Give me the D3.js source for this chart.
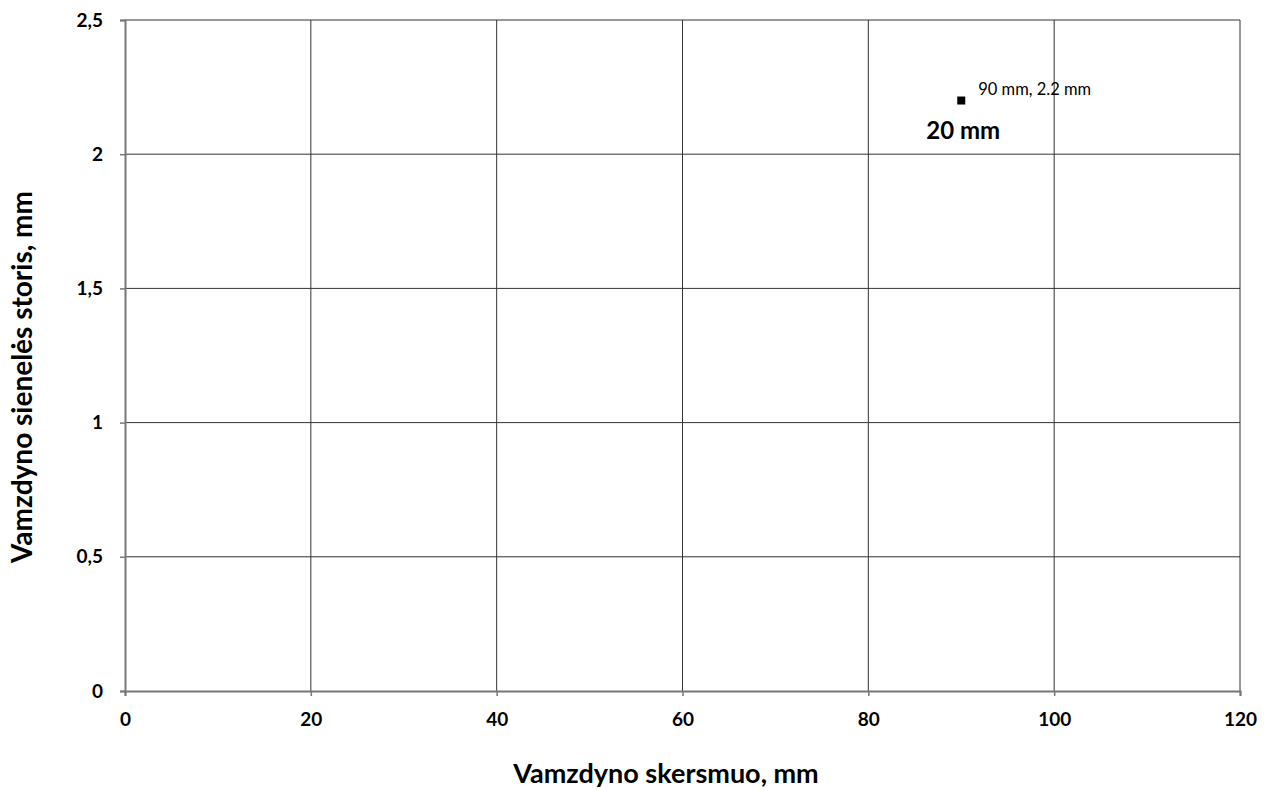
<!DOCTYPE html>
<html><head><meta charset="utf-8">
<script src="https://cdn.jsdelivr.net/npm/d3@7"></script>
<style>body{margin:0;background:#fff}svg{display:block}</style>
</head><body>
<script>
const xTicks = [0,20,40,60,80,100,120];
const yTicks = [0,0.5,1,1.5,2,2.5];
const pointsX = [90];
const pointsY = [2.2];
const pointLabels = ["90 mm, 2.2 mm"];
const seriesName = "20 mm";
const xTitle = "Vamzdyno skersmuo, mm";
const yTitle = "Vamzdyno sienelės storis, mm";

const W=1274,H=790;
const m={l:125,r:34,t:20,b:99};
const svg=d3.select("body").append("svg").attr("width",W).attr("height",H);
const x=d3.scaleLinear().domain([0,120]).range([m.l,W-m.r]);
const y=d3.scaleLinear().domain([0,2.5]).range([H-m.b,m.t]);
const fmt=d=>String(d).replace(".",",");
const font="Lato, 'Open Sans', sans-serif";

// grid
svg.append("g").selectAll("line").data(xTicks.slice(1)).join("line")
 .attr("x1",d=>x(d)).attr("x2",d=>x(d)).attr("y1",y(0)).attr("y2",y(2.5))
 .attr("stroke","#333").attr("stroke-width",1);
svg.append("g").selectAll("line").data(yTicks.slice(1)).join("line")
 .attr("x1",x(0)).attr("x2",x(120)).attr("y1",d=>y(d)).attr("y2",d=>y(d))
 .attr("stroke","#333").attr("stroke-width",1);

// axes
const xa=svg.append("g").attr("transform",`translate(0,${y(0)})`)
 .call(d3.axisBottom(x).tickValues(xTicks).tickFormat(fmt).tickSize(5).tickPadding(17));
const ya=svg.append("g").attr("transform",`translate(${x(0)},0)`)
 .call(d3.axisLeft(y).tickValues(yTicks).tickFormat(fmt).tickSize(5).tickPadding(17));
[xa,ya].forEach(a=>{
 a.select(".domain").attr("stroke","#777").attr("stroke-width",2);
 a.selectAll(".tick line").attr("stroke","#777").attr("stroke-width",1.5);
 a.selectAll("text").attr("font-family",font).attr("font-weight","bold").attr("font-size",19).attr("fill","#000");
});

// points
const pts=pointsX.map((v,i)=>({x:v,y:pointsY[i],l:pointLabels[i]}));
svg.append("g").selectAll("rect").data(pts).join("rect")
 .attr("x",d=>x(d.x)-4).attr("y",d=>y(d.y)-4).attr("width",8).attr("height",8).attr("fill","#000");
svg.append("g").selectAll("text").data(pts).join("text")
 .attr("x",d=>x(d.x)+17).attr("y",d=>y(d.y)-6)
 .attr("font-family",font).attr("font-size",16.5).attr("fill","#000").text(d=>d.l);
svg.append("text").attr("x",x(pts[0].x)-35).attr("y",y(pts[0].y)+38)
 .attr("font-family",font).attr("font-weight","bold").attr("font-size",24).text(seriesName);

// titles
svg.append("text").attr("x",666).attr("y",783).attr("text-anchor","middle")
 .attr("font-family",font).attr("font-weight","bold").attr("font-size",27).text(xTitle);
svg.append("text").attr("transform","translate(32,377) rotate(-90)").attr("text-anchor","middle")
 .attr("font-family",font).attr("font-weight","bold").attr("font-size",28).text(yTitle);
</script>
</body></html>
